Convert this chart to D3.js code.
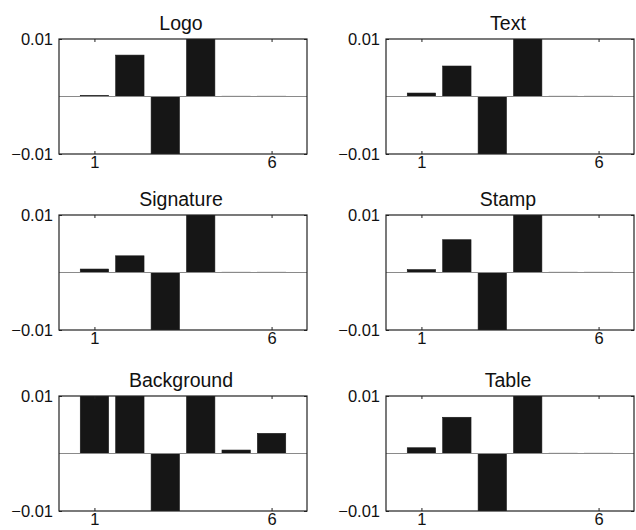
<!DOCTYPE html>
<html>
<head>
  <meta charset="UTF-8">
  <script src="https://d3js.org/d3.v7.min.js"></script>
  <style>
    body { margin: 0; background: #fff; font-family: "Liberation Sans", Arial, sans-serif; }
    .title { font-size: 19.5px; fill: #111; text-anchor: middle; }
  </style>
</head>
<body>
  <div id="chart"></div>
  <script>
    // panel titles
    const titles = ["Logo", "Text", "Signature", "Stamp", "Background", "Table"];
    // bar index on x
    const barIdx = [1, 2, 3, 4, 5, 6];
    // bar heights (clipped bars go past the limits)
    const logoVals       = [0.0002, 0.0072, -0.015, 0.015, 0.00005, 0.00005];
    const textVals       = [0.0006, 0.0053, -0.015, 0.015, 0.00005, 0.00005];
    const signatureVals  = [0.0006, 0.0029, -0.015, 0.015, 0.00005, 0.00005];
    const stampVals      = [0.0005, 0.0057, -0.015, 0.015, 0.00005, 0.00005];
    const backgroundVals = [0.015, 0.015, -0.015, 0.015, 0.0006, 0.0035];
    const tableVals      = [0.001, 0.0063, -0.015, 0.015, 0.00005, 0.00005];
    const seriesVals = [logoVals, textVals, signatureVals, stampVals, backgroundVals, tableVals];
    const xTicks = [1, 6];
    const yTicks = [-0.01, 0.01];

    const W = 636, H = 530;
    const colX = [59, 386], panelW = 248;
    const rowY = [39, 215, 396], panelH = 115;

    const svg = d3.select("#chart").append("svg")
      .attr("width", W).attr("height", H);

    seriesVals.forEach((vals, i) => {
      const px = colX[i % 2], py = rowY[Math.floor(i / 2)];
      const g = svg.append("g").attr("transform", `translate(${px},${py})`);

      const x = d3.scaleLinear().domain([0, 7]).range([0, panelW]);
      const y = d3.scaleLinear().domain([-0.01, 0.01]).range([panelH, 0]);
      const bw = (x(1) - x(0)) * 0.8;

      const clipId = "clip" + i;
      g.append("clipPath").attr("id", clipId)
        .append("rect").attr("width", panelW).attr("height", panelH);

      const plot = g.append("g").attr("clip-path", `url(#${clipId})`);

      plot.selectAll("rect.bar")
        .data(vals)
        .enter().append("rect")
        .attr("class", "bar")
        .attr("x", (d, j) => x(barIdx[j]) - bw / 2)
        .attr("y", d => y(Math.max(0, d)))
        .attr("width", bw)
        .attr("height", d => Math.abs(y(d) - y(0)))
        .attr("fill", "#161616")
        .attr("stroke", "#161616")
        .attr("stroke-width", 0.6);

      // zero baseline
      plot.append("line")
        .attr("x1", 0).attr("x2", panelW)
        .attr("y1", y(0)).attr("y2", y(0))
        .attr("stroke", "#8a8a8a").attr("stroke-width", 1);

      // axes, ticks pointing inward
      const xb = g.append("g").attr("transform", `translate(0,${panelH})`)
        .call(d3.axisBottom(x).tickValues(xTicks).tickFormat(d3.format("d")).tickSize(-3).tickPadding(2));
      const xt = g.append("g")
        .call(d3.axisTop(x).tickValues(xTicks).tickFormat("").tickSize(-3));
      const yl = g.append("g")
        .call(d3.axisLeft(y).tickValues(yTicks).tickFormat(d => d3.format(".2f")(d).replace("-", "\u2212")).tickSize(-3).tickPadding(6));
      const yr = g.append("g").attr("transform", `translate(${panelW},0)`)
        .call(d3.axisRight(y).tickValues(yTicks).tickFormat("").tickSize(-3));

      [xb, xt, yl, yr].forEach(a => {
        a.attr("font-size", 16.5).attr("font-family", "Liberation Sans, Arial, sans-serif");
        a.select(".domain").remove();
        a.selectAll(".tick line").attr("stroke", "#222");
        a.selectAll(".tick text").attr("fill", "#111");
      });

      // box
      g.append("rect")
        .attr("width", panelW).attr("height", panelH)
        .attr("fill", "none").attr("stroke", "#222").attr("stroke-width", 1.2);

      g.append("text").attr("class", "title")
        .attr("x", panelW / 2 - 2).attr("y", -9)
        .text(titles[i]);
    });
  </script>
</body>
</html>
